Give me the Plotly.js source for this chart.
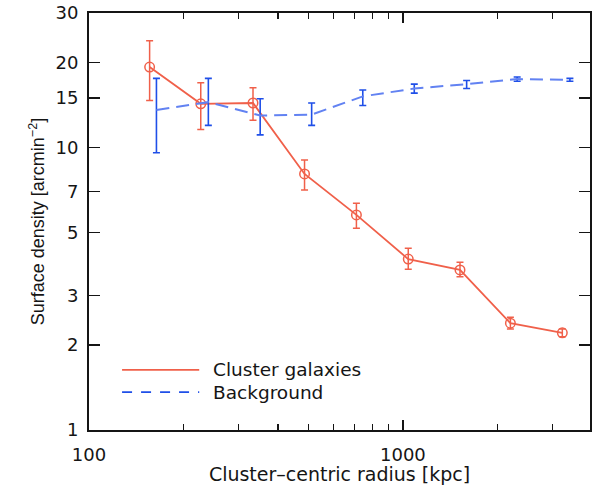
<!DOCTYPE html>
<html>
<head>
<meta charset="utf-8">
<script src="https://cdn.plot.ly/plotly-3.0.1.min.js"></script>
<style>html,body{margin:0;padding:0;background:#fff}#chart{width:592px;height:485px}</style>
</head>
<body>
<div id="chart"></div>
<script>
// Cluster galaxies
const clusterR = [156, 227, 333, 486, 711, 1040, 1520, 2200, 3220];
const clusterD = [19.3, 14.3, 14.4, 8.07, 5.78, 4.03, 3.69, 2.39, 2.21];
const clusterErrPlus = [4.6, 2.7, 1.9, 0.97, 0.57, 0.37, 0.24, 0.12, 0.07];
const clusterErrMinus = [4.6, 2.7, 1.9, 0.99, 0.60, 0.32, 0.20, 0.11, 0.07];
// Background
const bgR = [164, 240, 351, 512, 745, 1087, 1596, 2312, 3404];
const bgD = [13.6, 14.5, 13.0, 13.1, 15.2, 16.2, 16.8, 17.5, 17.4];
const bgErrPlus = [4.0, 3.1, 1.9, 1.3, 0.8, 0.6, 0.5, 0.3, 0.2];
const bgErrMinus = [4.0, 2.5, 1.9, 1.1, 1.1, 0.6, 0.6, 0.3, 0.2];
// Ticks
const yTicks = [1, 2, 3, 5, 7, 10, 15, 20, 30];
const xTicks = [100, 1000];
const xMinor = [200, 300, 400, 500, 600, 700, 800, 900, 2000, 3000];
// Legend labels
const seriesNames = ['Cluster galaxies', 'Background'];

const red = '#f0604a';
const blue = '#1f4fe8';
const blueLine = '#6282f2';

const wideFont = 'DejaVu Sans, Verdana, sans-serif';
const narrowFont = 'Liberation Sans, Arial, sans-serif';
const ink = '#151515';

const traces = [
  {
    x: clusterR, y: clusterD, name: seriesNames[0], type: 'scatter', mode: 'lines+markers',
    line: {color: red, width: 1.8},
    marker: {symbol: 'circle-open', size: 9.5, color: red, line: {width: 1.5, color: red}},
    error_y: {type: 'data', symmetric: false, array: clusterErrPlus, arrayminus: clusterErrMinus,
      color: red, thickness: 1.5, width: 3.5}
  },
  {
    x: bgR, y: bgD, name: seriesNames[1], type: 'scatter', mode: 'lines',
    line: {color: blueLine, width: 2, dash: '13px,7px'},
    error_y: {type: 'data', symmetric: false, array: bgErrPlus, arrayminus: bgErrMinus,
      color: blue, thickness: 1.6, width: 3.5}
  }
];

// Hand-drawn legend (long line samples as in the original figure)
const legY = [0.144, 0.091];
const shapes = [
  {type: 'line', xref: 'paper', yref: 'paper', x0: 0.066, x1: 0.22, y0: legY[0], y1: legY[0],
    line: {color: red, width: 1.8}},
  {type: 'line', xref: 'paper', yref: 'paper', x0: 0.066, x1: 0.22, y0: legY[1], y1: legY[1],
    line: {color: blue, width: 1.8, dash: '10px,9px'}}
];
const annotations = seriesNames.map((t, i) => ({
  text: t, xref: 'paper', yref: 'paper', x: 0.243, y: legY[i], xanchor: 'left', yanchor: 'middle',
  showarrow: false, font: {family: wideFont, size: 18.5, color: ink}
}));

const layout = {
  width: 592, height: 485,
  margin: {l: 89, r: 2, t: 13, b: 55},
  paper_bgcolor: '#fff', plot_bgcolor: '#fff',
  font: {family: wideFont, color: ink, size: 18},
  showlegend: false,
  shapes: shapes,
  annotations: annotations,
  xaxis: {
    type: 'log', range: [2, 3.596],
    tickmode: 'array', tickvals: xTicks, ticktext: xTicks.map(String),
    ticks: 'inside', ticklen: 10, tickwidth: 1.3, tickcolor: ink,
    minor: {tickmode: 'array', tickvals: xMinor, ticks: 'inside', ticklen: 6, tickwidth: 1.3, tickcolor: ink, showgrid: false},
    showline: true, linecolor: ink, linewidth: 2, mirror: 'ticks',
    showgrid: false, zeroline: false,
    tickfont: {family: wideFont, size: 18}, ticklabelstandoff: 7,
    title: {text: 'Cluster\u2013centric radius [kpc]', font: {family: wideFont, size: 19}, standoff: 3}
  },
  yaxis: {
    type: 'log', range: [0, Math.log10(30)],
    tickmode: 'array', tickvals: yTicks, ticktext: yTicks.map(String),
    ticks: 'inside', ticklen: 11, tickwidth: 1.3, tickcolor: ink,
    showline: true, linecolor: ink, linewidth: 2, mirror: 'ticks',
    showgrid: false, zeroline: false,
    tickfont: {family: wideFont, size: 18}, ticklabelstandoff: 5,
    title: {text: 'Surface density [arcmin<sup>\u22122</sup>]', font: {family: narrowFont, size: 18}, standoff: 6}
  }
};

Plotly.newPlot('chart', traces, layout, {displayModeBar: false, staticPlot: true});
</script>
</body>
</html>
